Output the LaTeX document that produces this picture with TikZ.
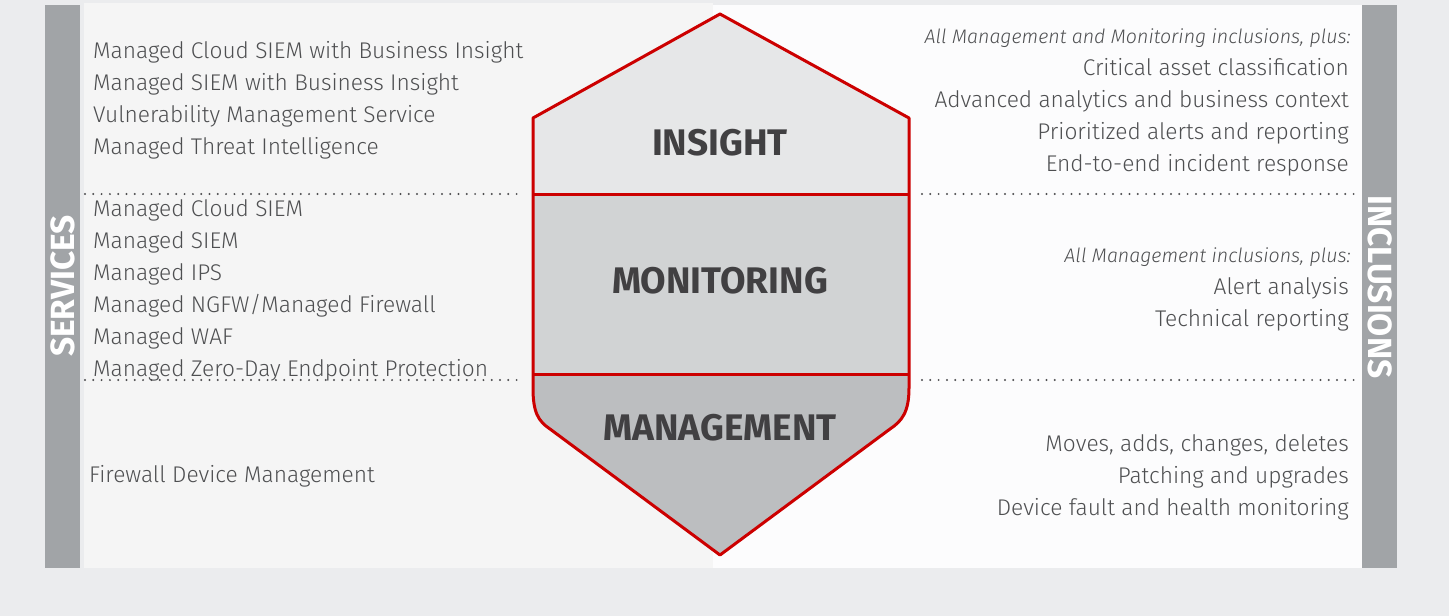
\documentclass[tikz,border=0pt]{standalone}
\usepackage{fontspec}
\setmainfont{Fira Sans Light}[ItalicFont={Fira Sans Light Italic}]
\newfontfamily\headfont{Fira Sans}
\usepackage{tikz}

\definecolor{pagebg}{HTML}{EBECEE}
\definecolor{leftbg}{HTML}{F5F5F5}
\definecolor{rightbg}{HTML}{FCFCFD}
\definecolor{bargray}{HTML}{A1A4A7}
\definecolor{textgray}{HTML}{4E4F51}
\definecolor{labelgray}{HTML}{414042}
\definecolor{dotgray}{HTML}{4D4D4F}
\definecolor{shieldred}{HTML}{CC0000}
\definecolor{insightfill}{HTML}{E6E7E8}
\definecolor{monitorfill}{HTML}{D1D3D4}
\definecolor{managefill}{HTML}{BCBEC0}

\def\shieldpath{(533,118) -- (720,14) -- (909,118) -- (909,388) .. controls (909,412) and (902,421) .. (890,429) -- (720,555) -- (550,429) .. controls (538,421) and (533,412) .. (533,388) -- cycle}

\begin{document}
\begin{tikzpicture}[x=1pt, y=-1pt,
    item/.style={anchor=base west, inner sep=0pt, text=textgray, font=\fontsize{22.7}{26}\selectfont},
    ritem/.style={item, anchor=base east},
    note/.style={ritem, font=\fontsize{19.6}{22}\selectfont\itshape},
    tier/.style={inner sep=0pt, text=labelgray, font=\headfont\bfseries\fontsize{37}{40}\selectfont},
    side/.style={inner sep=0pt, text=white, font=\headfont\bfseries\fontsize{33.5}{34}\selectfont},
    dots/.style={dotgray, line width=2.2pt, line cap=round, dash pattern=on 0pt off 8.3pt},
    shieldline/.style={draw=shieldred, line width=3pt, line join=round}]
    \useasboundingbox (0,0) rectangle (1449,616);
    \fill[pagebg] (0,0) rectangle (1449,616);

    % panels and side bars
    \fill[leftbg] (84,3) rectangle (713,568);
    \fill[rightbg] (713,5) rectangle (1362,568);
    \fill[bargray] (45,5) rectangle (80,568);
    \fill[bargray] (1362,5) rectangle (1397,568);

    \node[side, rotate=90] (S) at (63,286) {SERVICES};
    \node[side, rotate=-90] (I) at (1380,287) {INCLUSIONS};

    % dotted separators
    \draw[dots] (85,194) -- (520,194);
    \draw[dots] (85,380) -- (520,380);
    \draw[dots] (922,194) -- (1358,194);
    \draw[dots] (922,380) -- (1358,380);

    % shield
    \begin{scope}
        \clip \shieldpath;
        \fill[insightfill] (520,0) rectangle (920,194);
        \fill[monitorfill] (520,194) rectangle (920,374);
        \fill[managefill] (520,374) rectangle (920,560);
    \end{scope}
    \draw[shieldline] \shieldpath;
    \coordinate (A1) at (533,194);
    \coordinate (A2) at (909,194);
    \coordinate (B1) at (533,374);
    \coordinate (B2) at (909,374);
    \draw[shieldline] (A1) -- (A2);
    \draw[shieldline] (B1) -- (B2);

    \node[tier] (T1) at (720,143) {INSIGHT};
    \node[tier] (T2) at (720,281) {MONITORING};
    \node[tier] (T3) at (720,428) {MANAGEMENT};

    % services
    \node[item] (L1) at (93,58) {Managed Cloud SIEM with Business Insight};
    \node[item] (L2) at (93,90) {Managed SIEM with Business Insight};
    \node[item] (L3) at (93,122) {Vulnerability Management Service};
    \node[item] (L4) at (93,154) {Managed Threat Intelligence};

    \node[item] (M1) at (93,216) {Managed Cloud SIEM};
    \node[item] (M2) at (93,248) {Managed SIEM};
    \node[item] (M3) at (93,280) {Managed IPS};
    \node[item] (M4) at (93,312) {Managed NGFW/Managed Firewall};
    \node[item] (M5) at (93,344) {Managed WAF};
    \node[item] (M6) at (93,376) {Managed Zero-Day Endpoint Protection};

    \node[item] (F1) at (89,482) {Firewall Device Management};

    % inclusions
    \node[note] (R0) at (1351,43) {All Management and Monitoring inclusions, plus:};
    \node[ritem] (R1) at (1349,75) {Critical asset classification};
    \node[ritem] (R2) at (1349,107) {Advanced analytics and business context};
    \node[ritem] (R3) at (1349,139) {Prioritized alerts and reporting};
    \node[ritem] (R4) at (1349,171) {End-to-end incident response};

    \node[note] (P0) at (1351,262) {All Management inclusions, plus:};
    \node[ritem] (P1) at (1349,294) {Alert analysis};
    \node[ritem] (P2) at (1349,326) {Technical reporting};

    \node[ritem] (Q1) at (1349,451) {Moves, adds, changes, deletes};
    \node[ritem] (Q2) at (1349,483) {Patching and upgrades};
    \node[ritem] (Q3) at (1349,515) {Device fault and health monitoring};
\end{tikzpicture}
\end{document}
